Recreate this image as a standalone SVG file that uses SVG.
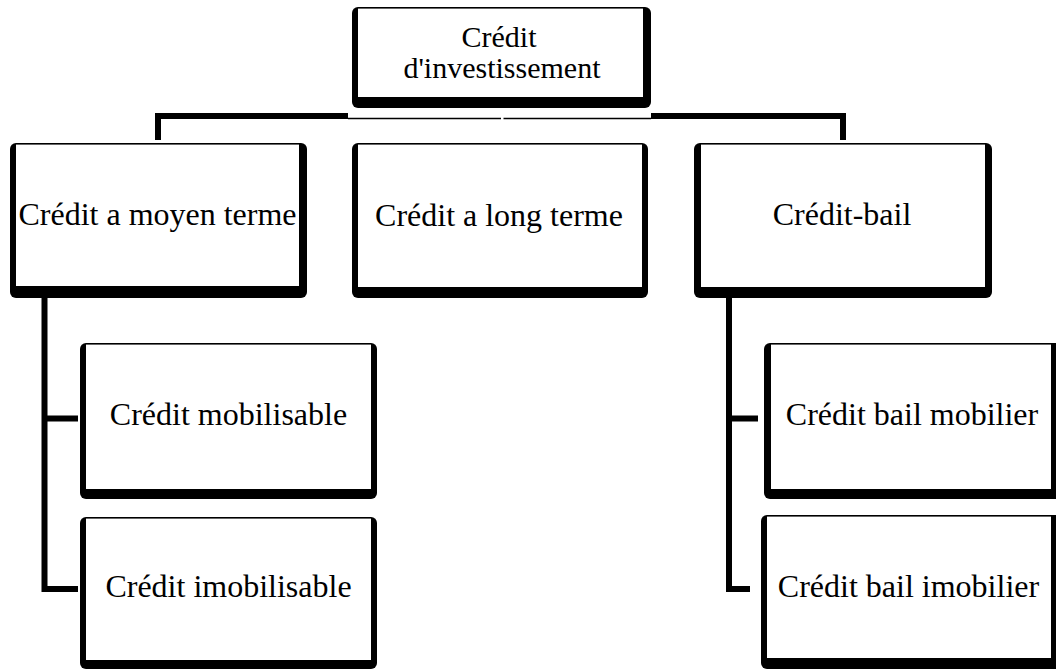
<svg xmlns="http://www.w3.org/2000/svg" width="1056" height="670" viewBox="0 0 1056 670">
  <style>
    .frame { fill: #000; }
    .face { fill: #fff; }
    .label { font-family: "Liberation Serif", "Times New Roman", serif; font-size: 32px; fill: #000; text-anchor: middle; }
    .root-label { font-size: 30px; }
    .link { fill: none; stroke: #000; stroke-width: 6; stroke-linejoin: miter; stroke-linecap: butt; }
    .thin { fill: none; stroke: #000; stroke-width: 1.6; }
  </style>
  <rect width="1056" height="670" fill="#fff"/>

  <!-- connectors -->
  <g id="connectors">
    <path class="link" d="M158,140 V116 H348"/>
    <path class="thin" d="M348,118.5 H501 M503.5,118.5 H651"/>
    <path class="link" d="M651,116 H843 V140"/>
    <path class="link" d="M44.5,298 V589 H78 M44.5,418.5 H78"/>
    <path class="link" d="M729,298 V589 H750 M729,418.5 H758"/>
  </g>

  <!-- root -->
  <g id="node-root">
    <rect class="frame" x="352" y="7" width="299" height="101" rx="6"/>
    <rect class="face" x="358" y="8.6" width="285" height="88.4"/>
    <text class="label root-label" x="499" y="47">Crédit</text>
    <text class="label root-label" x="502" y="78">d'investissement</text>
  </g>

  <!-- second level -->
  <g id="node-moyen-terme">
    <rect class="frame" x="10" y="143" width="297" height="155" rx="6"/>
    <rect class="face" x="16" y="144.6" width="283" height="141.4"/>
    <text class="label" x="157.5" y="225">Crédit a moyen terme</text>
  </g>
  <g id="node-long-terme">
    <rect class="frame" x="352" y="143" width="296" height="155" rx="6"/>
    <rect class="face" x="358" y="144.6" width="284" height="142.4"/>
    <text class="label" x="499" y="226">Crédit a long terme</text>
  </g>
  <g id="node-credit-bail">
    <rect class="frame" x="694" y="143" width="298" height="155" rx="6"/>
    <rect class="face" x="701" y="144.6" width="284" height="142.4"/>
    <text class="label" x="842" y="225">Crédit-bail</text>
  </g>

  <!-- third level -->
  <g id="node-mobilisable">
    <rect class="frame" x="80" y="343" width="297" height="156" rx="6"/>
    <rect class="face" x="86" y="344.6" width="285" height="144.4"/>
    <text class="label" x="228.5" y="425">Crédit mobilisable</text>
  </g>
  <g id="node-imobilisable">
    <rect class="frame" x="80" y="517" width="297" height="152" rx="6"/>
    <rect class="face" x="86" y="518.6" width="285" height="141.4"/>
    <text class="label" x="228.5" y="597">Crédit imobilisable</text>
  </g>
  <g id="node-bail-mobilier">
    <rect class="frame" x="764" y="343" width="298" height="156" rx="6"/>
    <rect class="face" x="771" y="344.6" width="280" height="144.4"/>
    <text class="label" x="912" y="425">Crédit bail mobilier</text>
  </g>
  <g id="node-bail-imobilier">
    <rect class="frame" x="761" y="515" width="301" height="154" rx="6"/>
    <rect class="face" x="767" y="516.6" width="284" height="141.4"/>
    <text class="label" x="908.5" y="597">Crédit bail imobilier</text>
  </g>
</svg>
